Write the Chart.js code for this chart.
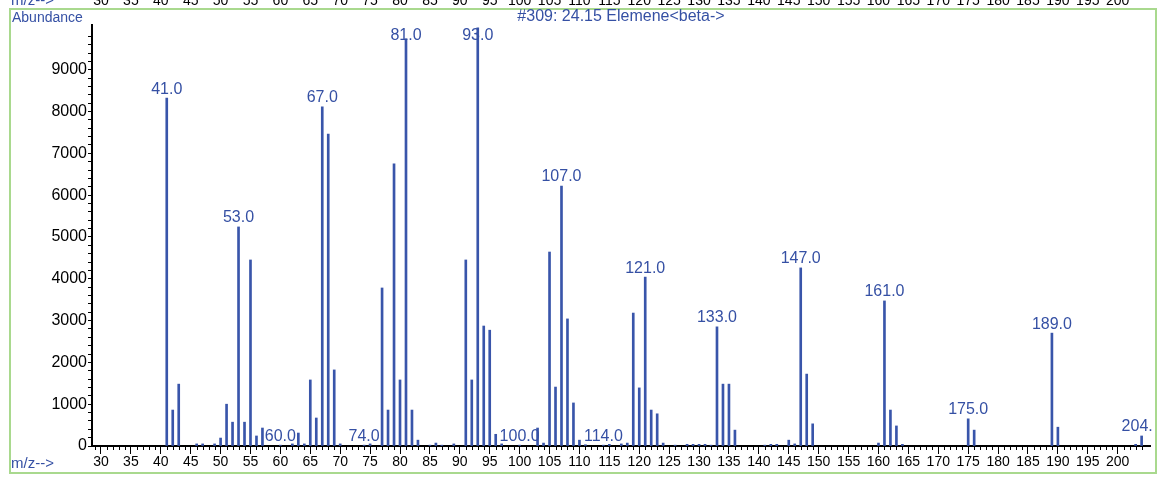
<!DOCTYPE html>
<html>
<head>
<meta charset="utf-8">
<script src="https://cdn.jsdelivr.net/npm/chart.js@4.4.0/dist/chart.umd.min.js"></script>
<style>
  html, body { margin: 0; padding: 0; background: #fff; }
  #wrap { width: 1158px; height: 477px; }
</style>
</head>
<body>
<div id="wrap"><canvas id="spectrum" width="1158" height="477"></canvas></div>
<script>
// m/z of each ion and its abundance
const mzValues = [
  41, 42, 43, 46, 47, 49, 50, 51, 52, 53, 54, 55, 56, 57, 60, 62, 63, 64, 65, 66,
  67, 68, 69, 70, 74, 75, 77, 78, 79, 80, 81, 82, 83, 85, 86, 87, 89, 91, 92, 93,
  94, 95, 96, 97, 100, 103, 104, 105, 106, 107, 108, 109, 110, 111, 114, 115, 117, 118, 119, 120,
  121, 122, 123, 124, 126, 128, 129, 130, 131, 132, 133, 134, 135, 136, 141, 142, 143, 145, 146, 147,
  148, 149, 160, 161, 162, 163, 164, 175, 176, 189, 190, 203, 204
]
const abundances = [
  8320, 860, 1480, 50, 50, 50, 190, 1000, 570, 5240, 570, 4450, 240, 430, 20, 50, 310, 50, 1580, 670,
  8110, 7460, 1820, 50, 20, 50, 3780, 860, 6750, 1580, 9740, 860, 140, 20, 70, 20, 50, 4450, 1580, 10000,
  2870, 2770, 280, 50, 20, 430, 70, 4640, 1410, 6220, 3040, 1030, 140, 30, 20, 40, 50, 70, 3180, 1390,
  4040, 860, 770, 70, 20, 40, 40, 40, 40, 20, 2850, 1480, 1480, 380, 20, 40, 40, 140, 50, 4260,
  1720, 530, 70, 3470, 860, 480, 40, 650, 380, 2700, 450, 40, 240
]
// peaks that carry an m/z label
const labelledPeaks = [41, 53, 60, 67, 74, 81, 93, 100, 107, 114, 121, 133, 147, 161, 175, 189, 204]

const xTickLabels = ['30', '35', '40', '45', '50', '55', '60', '65', '70', '75', '80', '85', '90', '95', '100',
  '105', '110', '115', '120', '125', '130', '135', '140', '145', '150', '155', '160', '165', '170', '175',
  '180', '185', '190', '195', '200']
const yTickLabels = ['0', '1000', '2000', '3000', '4000', '5000', '6000', '7000', '8000', '9000']

const titleText = '#309: 24.15 Elemene<beta->'
const yAxisTitle = 'Abundance'
const xAxisTitle = 'm/z-->'

const BLUE = '#3955aa'
const TEXT_BLUE = '#3550a4'
const FRAME_GREEN = '#a9d98e'
const FONT = '"Liberation Sans", Arial, sans-serif'

const isMajor = c => c.tick && Number.isInteger(c.tick.value) && c.tick.value % 5 === 0
const isStep = c => c.tick && c.tick.value % 200 === 0

const spectrumDecor = {
  id: 'spectrumDecor',
  afterDraw(chart) {
    const { ctx, chartArea, scales } = chart
    const x = scales.x
    const y = scales.y
    ctx.save()

    // short minor ticks under the m/z axis
    ctx.strokeStyle = '#000'
    ctx.lineWidth = 1
    for (let v = Math.ceil(x.min); v <= x.max; v++) {
      if (v % 5 === 0) continue
      const px = Math.round(x.getPixelForValue(v)) + 0.5
      ctx.beginPath()
      ctx.moveTo(px, chartArea.bottom)
      ctx.lineTo(px, chartArea.bottom + 4)
      ctx.stroke()
    }

    // green frame
    ctx.strokeStyle = FRAME_GREEN
    ctx.lineWidth = 2
    ctx.strokeRect(10, 9, 1146, 464)

    // cut-off axis of the panel above
    ctx.fillStyle = '#000'
    ctx.font = '14px ' + FONT
    ctx.textAlign = 'center'
    ctx.textBaseline = 'alphabetic'
    xTickLabels.forEach(t => ctx.fillText(t, x.getPixelForValue(Number(t)), 5))
    ctx.fillStyle = TEXT_BLUE
    ctx.textAlign = 'left'
    ctx.font = '15px ' + FONT
    ctx.fillText(xAxisTitle, 11, 5)

    // texts
    ctx.textBaseline = 'middle'
    ctx.fillText(xAxisTitle, 11, 464)
    ctx.font = '14px ' + FONT
    ctx.fillText(yAxisTitle, 12, 18)
    ctx.textAlign = 'center'
    ctx.font = '16px ' + FONT
    ctx.fillText(titleText, 621, 17)

    // peak labels
    ctx.beginPath()
    ctx.rect(0, 0, 1152, 477)
    ctx.clip()
    labelledPeaks.forEach(m => {
      const i = mzValues.indexOf(m)
      const top = y.getPixelForValue(abundances[i])
      const ly = Math.max(top - 9, 36)
      ctx.fillText(m.toFixed(1), x.getPixelForValue(m), ly)
    })
    ctx.restore()
  }
}

new Chart(document.getElementById('spectrum'), {
  type: 'bar',
  data: {
    datasets: [{
      data: mzValues.map((m, i) => ({ x: m, y: abundances[i] })),
      backgroundColor: BLUE,
      borderWidth: 0,
      barThickness: 2
    }]
  },
  options: {
    responsive: false,
    animation: false,
    devicePixelRatio: 1,
    layout: { padding: { top: 25, right: 8, left: 0, bottom: 0 } },
    plugins: { legend: { display: false }, tooltip: { enabled: false } },
    scales: {
      x: {
        type: 'linear',
        offset: false,
        min: 28.5,
        max: 205.4,
        afterFit: s => { s.height = 31 },
        border: { display: true, color: '#000', width: 2 },
        grid: {
          offset: false,
          drawOnChartArea: false,
          tickLength: 8,
          tickColor: c => isMajor(c) ? '#000' : 'rgba(0,0,0,0)'
        },
        ticks: {
          stepSize: 1,
          autoSkip: false,
          maxRotation: 0,
          padding: 0,
          color: '#000',
          font: { family: FONT, size: 14 },
          callback: v => xTickLabels.includes(String(v)) ? String(v) : ''
        }
      },
      y: {
        min: 0,
        max: 10070,
        afterFit: s => { s.width = 92 },
        border: { display: true, color: '#000', width: 2 },
        grid: {
          drawOnChartArea: false,
          tickLength: 4,
          tickColor: c => isStep(c) ? '#000' : 'rgba(0,0,0,0)'
        },
        ticks: {
          stepSize: 200,
          autoSkip: false,
          padding: 1,
          color: '#000',
          font: { family: FONT, size: 16 },
          callback: v => yTickLabels.includes(String(v)) ? String(v) : ''
        }
      }
    }
  },
  plugins: [spectrumDecor]
})
</script>
</body>
</html>
